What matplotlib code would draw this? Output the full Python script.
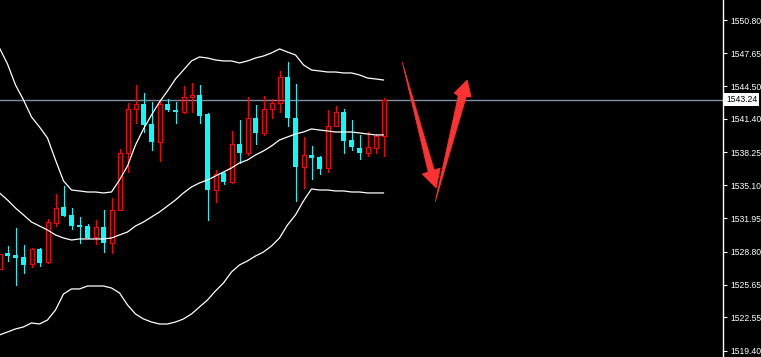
import numpy as np
import matplotlib
matplotlib.use("Agg")
import matplotlib.pyplot as plt
from matplotlib.patches import Polygon

# cotações (um candle por barra)
abertura = [1527.14, 1528.67, 1528.48, 1528.29, 1527.62, 1529.05, 1527.81, 1531.52, 1533.04, 1532.28,
            1531.33, 1531.23, 1530.19, 1531.14, 1529.62, 1532.75, 1538.17, 1542.35, 1542.82, 1540.92,
            1539.21, 1542.82, 1542.25, 1542.06, 1543.49, 1543.68, 1541.87, 1534.65, 1536.27, 1535.41,
            1539.02, 1538.17, 1541.49, 1540.07, 1542.35, 1542.92, 1545.39, 1541.49, 1536.84, 1537.98,
            1537.79, 1536.74, 1540.73, 1542.06, 1539.40, 1538.64, 1538.17, 1538.64, 1539.78]
maxima = [1528.60, 1529.33, 1531.04, 1529.43, 1529.14, 1529.10, 1531.90, 1534.27, 1535.03, 1532.94,
          1532.09, 1531.42, 1531.80, 1532.75, 1533.89, 1538.55, 1542.92, 1544.63, 1543.87, 1543.01,
          1543.20, 1543.30, 1543.01, 1544.53, 1544.82, 1544.63, 1541.97, 1536.55, 1536.36, 1540.26,
          1541.30, 1543.49, 1542.73, 1543.58, 1543.30, 1545.96, 1546.81, 1544.72, 1539.69, 1538.83,
          1537.85, 1542.25, 1542.63, 1542.35, 1541.30, 1539.88, 1540.16, 1539.97, 1543.39]
minima = [1527.10, 1527.91, 1525.63, 1526.77, 1527.34, 1527.43, 1527.75, 1531.23, 1532.18, 1530.95,
          1529.62, 1530.09, 1529.52, 1528.76, 1528.67, 1532.75, 1536.36, 1541.02, 1540.16, 1538.45,
          1537.41, 1542.16, 1541.02, 1541.97, 1542.06, 1541.02, 1531.80, 1533.51, 1535.22, 1535.32,
          1537.22, 1537.98, 1539.02, 1539.88, 1541.49, 1542.06, 1540.73, 1533.61, 1534.84, 1535.70,
          1536.17, 1536.36, 1540.73, 1538.17, 1538.45, 1537.60, 1537.88, 1538.17, 1537.88]
fechamento = [1528.57, 1528.38, 1528.19, 1527.53, 1529.05, 1527.72, 1531.61, 1532.94, 1532.18, 1531.23,
              1531.14, 1530.09, 1531.14, 1529.62, 1532.75, 1538.17, 1542.35, 1542.82, 1540.83, 1539.21,
              1542.82, 1542.25, 1542.06, 1543.49, 1543.68, 1541.68, 1534.65, 1536.17, 1535.41, 1539.02,
              1538.17, 1541.49, 1540.07, 1542.35, 1542.92, 1545.39, 1541.49, 1536.84, 1537.98, 1537.69,
              1536.65, 1540.73, 1542.06, 1539.31, 1538.74, 1538.17, 1538.74, 1539.78, 1543.24]

# bandas de Bollinger
banda_sup = [1548.14, 1546.62, 1544.63, 1543.20, 1541.59, 1540.64, 1539.59, 1537.50, 1535.51, 1534.65,
             1534.56, 1534.46, 1534.46, 1534.37, 1534.46, 1535.60, 1536.93, 1538.93, 1540.45, 1541.78,
             1543.01, 1544.06, 1545.20, 1546.05, 1546.91, 1547.29, 1547.19, 1547.00, 1546.91, 1546.91,
             1546.72, 1546.91, 1547.19, 1547.38, 1547.67, 1548.05, 1547.76, 1547.48, 1546.53, 1546.05,
             1545.96, 1545.86, 1545.86, 1545.77, 1545.77, 1545.58, 1545.29, 1545.20, 1545.10]
banda_med = [1534.37, 1533.70, 1532.94, 1532.28, 1531.61, 1531.23, 1530.85, 1530.38, 1530.09, 1529.90,
             1530.00, 1530.00, 1530.00, 1530.00, 1530.09, 1530.38, 1530.66, 1531.23, 1531.61, 1532.09,
             1532.56, 1533.13, 1533.70, 1534.37, 1534.94, 1535.32, 1535.60, 1535.98, 1536.36, 1536.74,
             1537.22, 1537.50, 1537.98, 1538.36, 1538.83, 1539.40, 1539.69, 1539.97, 1540.16, 1540.45,
             1540.35, 1540.26, 1540.16, 1540.16, 1540.16, 1540.07, 1539.97, 1539.88, 1539.88]
banda_inf = [1520.88, 1521.16, 1521.45, 1521.64, 1522.02, 1521.92, 1522.30, 1523.25, 1524.77, 1525.25,
             1525.25, 1525.53, 1525.53, 1525.53, 1525.34, 1524.87, 1523.73, 1522.87, 1522.40, 1522.11,
             1521.92, 1521.92, 1522.11, 1522.40, 1522.87, 1523.54, 1524.20, 1525.06, 1525.82, 1526.86,
             1527.53, 1527.91, 1528.38, 1528.76, 1529.33, 1530.09, 1531.33, 1532.28, 1533.61, 1534.75,
             1534.65, 1534.65, 1534.56, 1534.56, 1534.46, 1534.46, 1534.37, 1534.37, 1534.37]

preco_atual = 1543.24
rotulos_eixo = [1550.80, 1547.65, 1544.50, 1541.40, 1538.25, 1535.10,
                1531.95, 1528.80, 1525.65, 1522.55, 1519.40]

# setas desenhadas à mão (índice do candle, preço)
seta_baixo = [(50.34, 1546.81), (54.34, 1536.55), (55.09, 1536.74), (54.59, 1534.84),
              (52.84, 1536.17), (53.59, 1536.36)]
seta_cima = [(54.46, 1533.51), (57.34, 1543.58), (56.84, 1543.87), (58.46, 1545.10),
             (58.96, 1543.49), (58.34, 1543.49)]

CIANO = "#00ffff"
VERMELHO = "#ff0000"
PX_X = 1 / 8      # 1 pixel no eixo x (um candle a cada 8 px)
PX_Y = 0.095      # 1 pixel no eixo y (em preço)
LW = 0.72         # 1 pixel em pontos

fig = plt.figure(figsize=(7.61, 3.57), dpi=100, facecolor="black")
ax = fig.add_axes([0, 0, 723 / 761, 1])
ax.set_facecolor("black")

x = np.arange(len(abertura))
o = np.array(abertura)
h = np.array(maxima)
l = np.array(minima)
c = np.array(fechamento)
alta = c >= o

base = np.minimum(o, c)
topo = np.maximum(np.maximum(o, c), base + PX_Y)

# linha do preço atual (atrás dos candles)
ax.axhline(preco_atual, color="#7f8fa6", lw=1.0, zorder=1)

# candles de baixa: pavio inteiro + corpo ciano cheio
xb = x[~alta]
ax.vlines(xb, l[~alta], h[~alta], colors=CIANO, lw=LW, zorder=2, antialiased=False)
ax.bar(xb, topo[~alta] - base[~alta], bottom=base[~alta], width=5 * PX_X,
       color=CIANO, lw=0, zorder=3, antialiased=False)

# candles de alta: corpo vazado com moldura vermelha de 1 px
xa = x[alta]
ba, ta = base[alta], topo[alta]
ax.vlines(xa, ta, h[alta], colors=VERMELHO, lw=LW, zorder=2, antialiased=False)
ax.vlines(xa, l[alta], ba, colors=VERMELHO, lw=LW, zorder=2, antialiased=False)
ax.vlines(xa - 2 * PX_X, ba, ta, colors=VERMELHO, lw=LW, zorder=3, antialiased=False)
ax.vlines(xa + 2 * PX_X, ba, ta, colors=VERMELHO, lw=LW, zorder=3, antialiased=False)
ax.hlines(ba, xa - 2 * PX_X, xa + 2 * PX_X, colors=VERMELHO, lw=LW, zorder=3, antialiased=False)
ax.hlines(ta, xa - 2 * PX_X, xa + 2 * PX_X, colors=VERMELHO, lw=LW, zorder=3, antialiased=False)

# bandas
for banda in (banda_sup, banda_med, banda_inf):
    ax.plot(x, banda, color="white", lw=0.9, zorder=4)

# setas vermelhas
for pts in (seta_baixo, seta_cima):
    ax.add_patch(Polygon(pts, closed=True, facecolor="#ff3232", edgecolor="#ff3232",
                         lw=0.5, zorder=5))

# centros dos candles alinhados ao meio do pixel
ax.set_xlim(0.5 / 8, 723.5 / 8)
ax.set_ylim(1518.785, 1552.70)

for lado in ("top", "left", "bottom"):
    ax.spines[lado].set_visible(False)
ax.spines["right"].set_color("white")
ax.spines["right"].set_linewidth(1.0)

ax.set_xticks([])
ax.yaxis.tick_right()
ax.set_yticks(rotulos_eixo)
ax.set_yticklabels([f"{v:.2f}" for v in rotulos_eixo])
ax.tick_params(axis="y", colors="white", length=3, width=0.8, pad=2,
               labelsize=6.2, labelfontfamily="Liberation Sans")

# caixa com o preço atual
ax.text(1.0 + 3 / 723, preco_atual, f"{preco_atual:.2f}", transform=ax.get_yaxis_transform(),
        ha="left", va="center", fontsize=6.2, family="Liberation Sans", color="black",
        bbox=dict(boxstyle="square,pad=0.22", facecolor="white", edgecolor="none"),
        clip_on=False, zorder=6)

fig.savefig("out.png", dpi=100, facecolor="black")
